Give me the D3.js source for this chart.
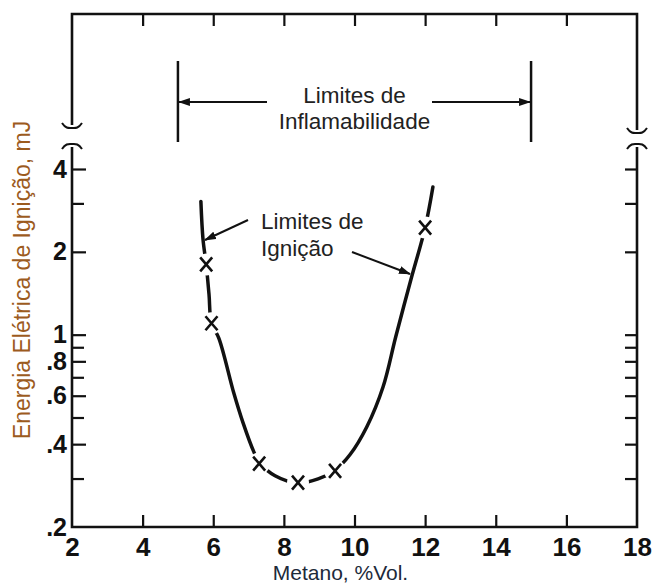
<!DOCTYPE html>
<html>
<head>
<meta charset="utf-8">
<script src="https://cdn.jsdelivr.net/npm/d3@7"></script>
<style>
  body { margin: 0; background: #fff; }
  svg { display: block; }
  text { font-family: "Liberation Sans", Arial, sans-serif; }
</style>
</head>
<body>
<div id="chart"></div>
<script>
// data
const xTicks = [2, 4, 6, 8, 10, 12, 14, 16, 18];
const yMajor = [4, 2, 1, 0.8, 0.6, 0.4, 0.2];
const yMajorLabels = ['4', '2', '1', '.8', '.6', '.4', '.2'];
const yMinor = [3, 0.9, 0.7, 0.5, 0.3];
const flammLimits = [5, 15];
// curve (metano %, energia mJ)
const curveX = [5.65, 5.71, 5.8, 5.88, 5.95, 6.16, 6.58, 6.84, 7.15, 7.32, 7.75, 8.4, 8.97, 9.45, 9.87, 10.35, 10.81, 11.17, 11.6, 12.0, 12.22];
const curveY = [3.05, 2.22, 1.8, 1.4, 1.1, 0.97, 0.615, 0.48, 0.375, 0.342, 0.307, 0.289, 0.299, 0.322, 0.366, 0.463, 0.647, 0.985, 1.59, 2.45, 3.44];
// measured points (X markers)
const pointX = [5.8, 5.95, 7.3, 8.4, 9.45, 12.0];
const pointY = [1.8, 1.1, 0.34, 0.29, 0.32, 2.45];

const W = 652, H = 587;
const svg = d3.select('#chart').append('svg').attr('width', W).attr('height', H);

const x = d3.scaleLinear().domain([2, 18]).range([72, 637]);
const y = d3.scaleLog().domain([0.2, 4]).range([527, 169]);

const topY = 14, breakL = [125, 147], breakR = [130, 147];
const ink = '#111';

svg.append('defs').append('marker')
  .attr('id', 'head').attr('viewBox', '0 0 12 8')
  .attr('refX', 11).attr('refY', 4)
  .attr('markerWidth', 12).attr('markerHeight', 8)
  .attr('markerUnits', 'userSpaceOnUse')
  .attr('orient', 'auto')
  .append('path').attr('d', 'M0,0L12,4L0,8Z').attr('fill', ink);

// frame lines
const frame = svg.append('g').attr('stroke', ink).attr('stroke-width', 2.6).attr('fill', 'none');
frame.append('path').attr('d', `M${x(2)},${breakL[0]}V${topY}H${x(18)}V${breakR[0]}`);
frame.append('path').attr('d', `M${x(2)},${breakL[1]}V${y(0.2)}H${x(18)}V${breakR[1]}`);

// axis break squiggles
function squiggle(cx, cy, up) {
  const s = up ? -1 : 1;
  return `M${cx - 10},${cy + 4 * s}C${cx - 6},${cy - 2 * s} ${cx - 3},${cy - 1 * s} ${cx},${cy - 1 * s}` +
    `C${cx + 3},${cy - 1 * s} ${cx + 6},${cy - 2 * s} ${cx + 10},${cy + 4 * s}`;
}
frame.append('path').attr('stroke-width', 2).attr('d', squiggle(x(2), breakL[0] + 2, true));
frame.append('path').attr('stroke-width', 2).attr('d', squiggle(x(2), breakL[1] - 2, false));
frame.append('path').attr('stroke-width', 2).attr('d', squiggle(x(18), breakR[0] + 2, true));
frame.append('path').attr('stroke-width', 2).attr('d', squiggle(x(18), breakR[1] - 2, false));

function styleAxis(g, size) {
  g.select('.domain').remove();
  g.selectAll('.tick line').attr('stroke', ink).attr('stroke-width', 2.2);
  g.selectAll('.tick text').attr('fill', ink)
    .style('font-size', (size || 24) + 'px').style('font-weight', 'bold');
}

const inner = xTicks.slice(1, -1);
// bottom axis
svg.append('g').attr('transform', `translate(0,${y(0.2)})`)
  .call(d3.axisBottom(x).tickValues(inner).tickSizeInner(-12).tickSizeOuter(0).tickFormat(''))
  .call(styleAxis);
svg.append('g').attr('transform', `translate(0,${y(0.2)})`)
  .call(d3.axisBottom(x).tickValues(xTicks).tickSize(0).tickPadding(11).tickFormat(d3.format('d')))
  .call(styleAxis, 26);
// top (broken) axis
svg.append('g').attr('transform', `translate(0,${topY})`)
  .call(d3.axisTop(x).tickValues(inner).tickSizeInner(-12).tickSizeOuter(0).tickFormat(''))
  .call(styleAxis);
// left axis
svg.append('g').attr('transform', `translate(${x(2)},0)`)
  .call(d3.axisLeft(y).tickValues(yMajor.slice(0, -1)).tickSizeInner(-14).tickSizeOuter(0).tickFormat(''))
  .call(styleAxis);
svg.append('g').attr('transform', `translate(${x(2)},0)`)
  .call(d3.axisLeft(y).tickValues(yMinor).tickSizeInner(-12).tickSizeOuter(0).tickFormat(''))
  .call(styleAxis);
svg.append('g').attr('transform', `translate(${x(2)},0)`)
  .call(d3.axisLeft(y).tickValues(yMajor).tickSize(0).tickPadding(5)
    .tickFormat((d, i) => yMajorLabels[i]))
  .call(styleAxis, 25);
// right axis
svg.append('g').attr('transform', `translate(${x(18)},0)`)
  .call(d3.axisRight(y).tickValues(yMajor.slice(0, -1).concat(yMinor)).tickSizeInner(-12).tickSizeOuter(0).tickFormat(''))
  .call(styleAxis);

// axis titles
svg.append('text')
  .attr('transform', 'translate(22,280) rotate(-90)')
  .attr('text-anchor', 'middle').attr('dy', '0.35em')
  .attr('fill', '#9c5b1e').style('font-size', '23px')
  .text('Energia Elétrica de Ignição, mJ');
svg.append('text')
  .attr('x', x(10) - 14).attr('y', 580)
  .attr('text-anchor', 'middle').attr('fill', '#1d2a3a').style('font-size', '21px')
  .text('Metano, %Vol.');

// flammability limits
const fl = svg.append('g');
fl.selectAll('line.lim').data(flammLimits).join('line')
  .attr('class', 'lim')
  .attr('x1', d => x(d)).attr('x2', d => x(d))
  .attr('y1', 61).attr('y2', 142)
  .attr('stroke', ink).attr('stroke-width', 2.5);
fl.append('line').attr('x1', 267).attr('x2', x(flammLimits[0]) + 1).attr('y1', 102).attr('y2', 102)
  .attr('stroke', ink).attr('stroke-width', 2).attr('marker-end', 'url(#head)');
fl.append('line').attr('x1', 432).attr('x2', x(flammLimits[1]) - 1).attr('y1', 102).attr('y2', 102)
  .attr('stroke', ink).attr('stroke-width', 2).attr('marker-end', 'url(#head)');
fl.append('text').attr('x', x(10)).attr('y', 103).attr('text-anchor', 'middle')
  .attr('fill', '#222').style('font-size', '22.5px').text('Limites de');
fl.append('text').attr('x', x(10)).attr('y', 129).attr('text-anchor', 'middle')
  .attr('fill', '#222').style('font-size', '22.5px').text('Inflamabilidade');

// curve
const pts = curveX.map((d, i) => [x(d), y(curveY[i])]);
svg.append('path')
  .attr('d', d3.line().curve(d3.curveCatmullRom.alpha(0.5))(pts))
  .attr('fill', 'none').attr('stroke', ink).attr('stroke-width', 3.5).attr('stroke-linecap', 'round');

// markers with a white gap around them
const mk = pointX.map((d, i) => [x(d), y(pointY[i])]);
svg.append('g').selectAll('circle').data(mk).join('circle')
  .attr('cx', d => d[0]).attr('cy', d => d[1]).attr('r', 11).attr('fill', '#fff');
svg.append('g').selectAll('path').data(mk).join('path')
  .attr('d', d => `M${d[0] - 6},${d[1] - 7}L${d[0] + 6},${d[1] + 7}M${d[0] + 6},${d[1] - 7}L${d[0] - 6},${d[1] + 7}`)
  .attr('stroke', ink).attr('stroke-width', 2.6).attr('fill', 'none');

// ignition limits annotation
svg.append('text').attr('x', 261).attr('y', 229).attr('fill', '#222').style('font-size', '22.5px').text('Limites de');
svg.append('text').attr('x', 261).attr('y', 256).attr('fill', '#222').style('font-size', '22.5px').text('Ignição');
svg.append('line').attr('x1', 248).attr('y1', 220).attr('x2', 205).attr('y2', 240)
  .attr('stroke', ink).attr('stroke-width', 2).attr('marker-end', 'url(#head)');
svg.append('line').attr('x1', 352).attr('y1', 252).attr('x2', 410).attr('y2', 274)
  .attr('stroke', ink).attr('stroke-width', 2).attr('marker-end', 'url(#head)');
</script>
</body>
</html>
